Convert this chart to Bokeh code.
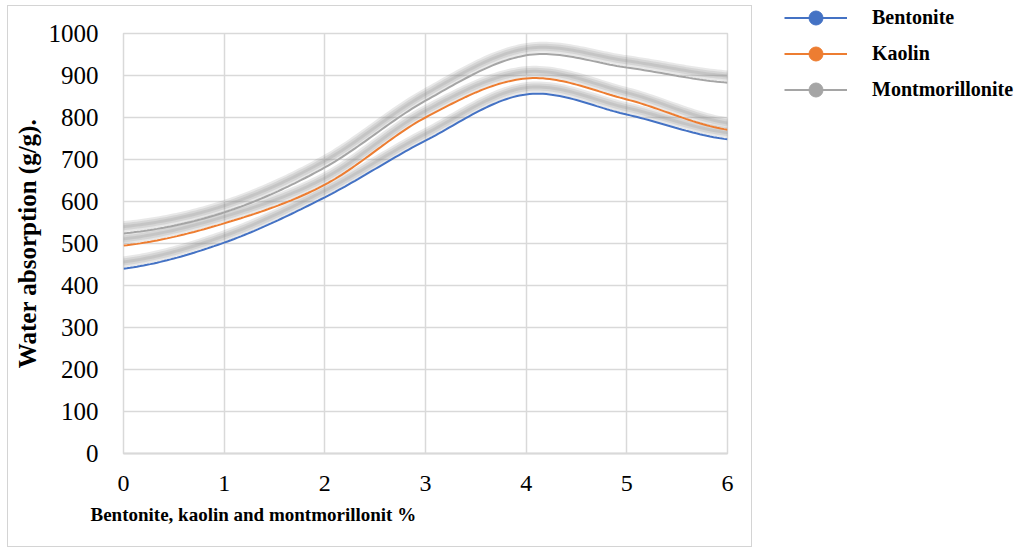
import numpy as np
from bokeh.plotting import figure
from bokeh.layouts import row, column
from bokeh.models import (Range1d, Legend, LegendItem, ColumnDataSource, FixedTicker, Title)
from bokeh.embed import file_html
from bokeh.resources import INLINE

# ---- data ----
x_pct = [0, 1, 2, 3, 4, 5, 6]
bentonite = [440, 502, 610, 745, 855, 807, 748]
kaolin = [495, 548, 640, 800, 893, 843, 771]
montmorillonite = [524, 574, 681, 840, 948, 919, 883]
series_names = ["Bentonite", "Kaolin", "Montmorillonite"]
series_colors = ["#4472C4", "#ED7D31", "#A5A5A5"]
y_ticks = [0, 100, 200, 300, 400, 500, 600, 700, 800, 900, 1000]

FONT = "Liberation Serif"


def smooth(xs, ys, n=30):
    """Catmull-Rom smoothing (as Excel's smoothed line) through the data points."""
    xs = np.asarray(xs, float)
    ys = np.asarray(ys, float)
    px = np.concatenate([[2 * xs[0] - xs[1]], xs, [2 * xs[-1] - xs[-2]]])
    py = np.concatenate([[ys[0]], ys, [ys[-1]]])
    ox, oy = [], []
    for i in range(1, len(px) - 2):
        t = np.linspace(0, 1, n, endpoint=(i == len(px) - 3))
        for arr, out in ((px, ox), (py, oy)):
            p0, p1, p2, p3 = arr[i - 1], arr[i], arr[i + 1], arr[i + 2]
            m1 = (p2 - p0) / 2
            m2 = (p3 - p1) / 2
            h00 = 2 * t**3 - 3 * t**2 + 1
            h10 = t**3 - 2 * t**2 + t
            h01 = -2 * t**3 + 3 * t**2
            h11 = t**3 - t**2
            out.extend(h00 * p1 + h10 * m1 + h01 * p2 + h11 * m2)
    return ox, oy


p = figure(width=745, height=542, output_backend="svg", toolbar_location=None,
           x_range=Range1d(0, 6), y_range=Range1d(0, 1000),
           min_border_left=115, min_border_right=26, min_border_top=27,
           min_border_bottom=95)
p.margin = (5, 0, 0, 7)
p.styles = {"border": "1px solid #d4d4d4"}
p.extra_y_ranges = {"shadow": Range1d(-16, 984)}

p.background_fill_color = "white"
p.border_fill_color = "white"
p.outline_line_color = "#d9d9d9"
p.outline_line_width = 1.5

for g in (p.xgrid, p.ygrid):
    g.grid_line_color = "#d9d9d9"
    g.grid_line_width = 1.5
p.xaxis.ticker = FixedTicker(ticks=x_pct)
p.yaxis.ticker = FixedTicker(ticks=y_ticks)

for ax in (p.xaxis, p.yaxis):
    ax.major_tick_line_color = None
    ax.minor_tick_line_color = None
    ax.major_label_text_font = FONT
    ax.major_label_text_color = "black"
    ax.axis_label_text_font = FONT
    ax.axis_label_text_font_style = "bold"
    ax.axis_label_text_color = "black"
p.xaxis.axis_line_color = "#d9d9d9"
p.xaxis.axis_line_width = 2
p.yaxis.axis_line_color = None
p.xaxis.major_label_text_font_size = "24px"
p.yaxis.major_label_text_font_size = "25px"
p.xaxis.major_label_standoff = 16
p.yaxis.major_label_standoff = 19
p.yaxis.axis_label = "Water absorption (g/g)."
p.yaxis.axis_label_text_font_size = "25px"
p.yaxis.axis_label_standoff = 5

xtitle = Title(text="Bentonite, kaolin and montmorillonit %", align="left", offset=-33,
               text_font=FONT, text_font_style="bold", text_font_size="19px",
               text_color="black", standoff=17)
p.add_layout(xtitle, "below")

all_series = [bentonite, kaolin, montmorillonite]

# soft shadows first
for ys in all_series:
    sx, sy = smooth(x_pct, ys)
    for w in (11, 7, 3):
        p.line(sx, sy, y_range_name="shadow", line_color="#7f7f7f", line_alpha=0.18,
               line_width=w, line_cap="round", line_join="round")

for ys, col in zip(all_series, series_colors):
    sx, sy = smooth(x_pct, ys)
    p.line(sx, sy, line_color=col, line_width=2)

# ---- legend panel ----
lg = figure(width=276, height=553, output_backend="svg", toolbar_location=None,
            x_range=Range1d(0, 1), y_range=Range1d(0, 1), x_axis_type=None,
            y_axis_type=None, title_location=None, min_border_left=32,
            min_border_top=0, min_border_right=0, min_border_bottom=0)
lg.outline_line_color = None
lg.xgrid.visible = False
lg.ygrid.visible = False
lg.background_fill_color = "white"
lg.border_fill_color = "white"

items = []
for name, col in zip(series_names, series_colors):
    # placeholder renderers: they only supply the legend swatch
    src = ColumnDataSource(data=dict(x=[float("nan")], y=[float("nan")]))
    lr = lg.line("x", "y", source=src, line_color=col, line_width=2)
    sr = lg.scatter("x", "y", source=src, size=15, marker="circle",
                    fill_color=col, line_color=col)
    items.append(LegendItem(label=name, renderers=[lr, sr], index=0))

legend = Legend(items=items, location="top_left", orientation="vertical",
                glyph_width=63, glyph_height=35, spacing=1, padding=0, margin=0,
                label_standoff=25, label_text_font=FONT, label_text_font_style="bold",
                label_text_font_size="20px", label_text_color="black",
                border_line_color=None, background_fill_alpha=0)
lg.add_layout(legend, "center")

layout = row(p, column(lg))
open("out.html", "w").write(file_html(layout, INLINE))
